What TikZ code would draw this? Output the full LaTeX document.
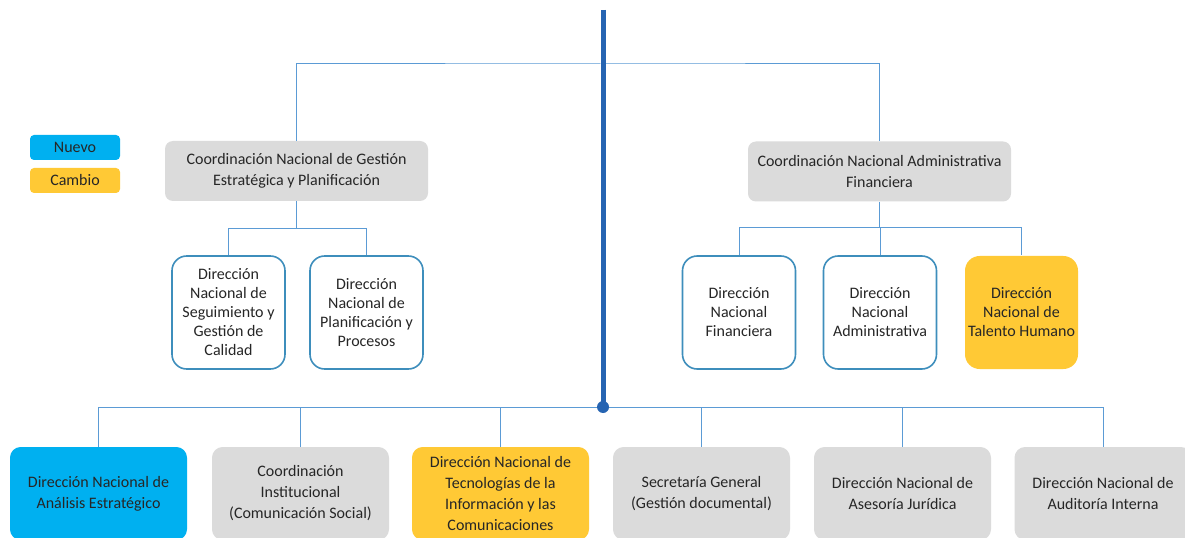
\documentclass[tikz,border=0pt]{standalone}
\usepackage{fontspec}
\setmainfont{Carlito}
\usepackage{tikz}
\usetikzlibrary{positioning,calc}
\definecolor{nuevo}{HTML}{00B0F0}
\definecolor{cambio}{HTML}{FFC935}
\definecolor{gris}{HTML}{DBDBDB}
\definecolor{linea}{HTML}{5B9BD5}
\definecolor{eje}{HTML}{2664B2}
\definecolor{borde}{HTML}{3E8EBC}
\definecolor{texto}{HTML}{262626}
\tikzset{
  caja/.style={rectangle, rounded corners=6pt, fill=gris, align=center, text=texto,
    font=\fontsize{12}{15.75}\selectfont, inner sep=0pt},
  coord/.style={caja, minimum width=197.25pt, minimum height=45pt},
  dir/.style={caja, fill=white, draw=borde, line width=1.2pt, rounded corners=11pt,
    minimum width=84.75pt, minimum height=84.75pt, font=\fontsize{12}{14.25}\selectfont},
  baja/.style={caja, rounded corners=8pt, minimum width=132.75pt, minimum height=69.75pt},
  leyenda/.style={caja, rounded corners=3pt, minimum width=67.5pt, minimum height=18.75pt},
  conn/.style={draw=linea, line width=0.75pt},
}

\begin{document}
\begin{tikzpicture}[x=0.75pt, y=-0.75pt]
\clip (0,0) rectangle (1185,538);
\fill[white] (0,0) rectangle (1185,538);

% leyenda
\node[leyenda, fill=nuevo] (nuevo) at (75,147.5) {Nuevo};
\node[leyenda, fill=cambio] (cambio) at (75,180.5) {Cambio};

% coordinaciones
\node[coord] (cngep) at (296.5,171) {Coordinación Nacional de Gestión\\Estratégica y Planificación};
\node[coord] (cnaf) at (879.5,171.5) {Coordinación Nacional Administrativa\\Financiera};

\node[dir] (dnsgc) at (228.5,312.5) {Dirección\\Nacional de\\Seguimiento y\\Gestión de\\Calidad};
\node[dir] (dnpp) at (366.5,312.5) {Dirección\\Nacional de\\Planificación y\\Procesos};
\node[dir] (dnf) at (739,312.5) {Dirección\\Nacional\\Financiera};
\node[dir] (dna) at (880,312.5) {Dirección\\Nacional\\Administrativa};
\node[dir, fill=cambio, draw=none] (dnth) at (1021.5,312.5) {Dirección\\Nacional de\\Talento Humano};

% fila inferior
\node[baja, fill=nuevo] (dnae) at (98.5,493.5) {Dirección Nacional de\\Análisis Estratégico};
\node[baja] (ci) at (300.5,493.5) {Coordinación\\Institucional\\(Comunicación Social)};
\node[baja, fill=cambio] (dntic) at (500.5,493.5) {Dirección Nacional de\\Tecnologías de la\\Información y las\\Comunicaciones};
\node[baja] (sg) at (701.5,493.5) {Secretaría General\\(Gestión documental)};
\node[baja] (dnaj) at (902.5,493.5) {Dirección Nacional de\\Asesoría Jurídica};
\node[baja] (dnai) at (1103,493.5) {Dirección Nacional de\\Auditoría Interna};

\coordinate (cima) at (603,10);
\coordinate (cruce) at (603,64);
\coordinate (nudo) at (603,407);

\draw[conn] (cngep.north) |- (cruce) -| (cnaf.north);
\draw[conn] (cngep.south) -- ++(0,27) coordinate (ramaA);
\draw[conn] (cnaf.south) -- ++(0,26) coordinate (ramaB);
\foreach \n in {dnsgc,dnpp} \draw[conn] (ramaA) -| (\n.north);
\foreach \n in {dnf,dna,dnth} \draw[conn] (ramaB) -| (\n.north);
\foreach \n in {dnae,ci,dntic,sg,dnaj,dnai} \draw[conn] (nudo) -| (\n.north);

\draw[eje, line width=3.75pt] (cima) -- (nudo);
\fill[eje] (nudo) circle (4.5pt);
\end{tikzpicture}
\end{document}
